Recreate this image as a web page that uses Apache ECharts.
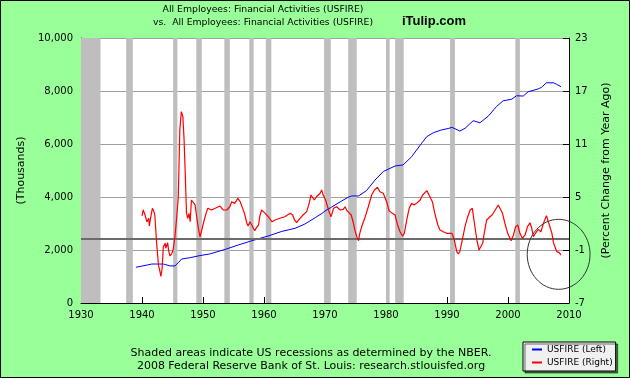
<!DOCTYPE html>
<html><head><meta charset="utf-8">
<script src="https://cdn.jsdelivr.net/npm/echarts@6/dist/echarts.min.js"></script>
<style>html,body{margin:0;padding:0;background:#99ff99}#c{width:630px;height:378px}</style>
</head><body><div id="c"></div>
<script>
// ---- data ----
const blueYears = [1939.0,1940.8,1941.6,1943.5,1944.6,1945.4,1945.95,1946.5,1947.9,1949.5,1951.1,1953.6,1955.8,1958.0,1960.7,1962.9,1965.1,1966.7,1968.4,1969.5,1970.0,1971.1,1972.5,1973.8,1974.4,1975.5,1976.8,1978.2,1979.55,1980.65,1981.5,1982.8,1984.2,1985.85,1986.7,1987.8,1989.1,1990.3,1990.8,1992.1,1992.95,1994.3,1995.4,1996.8,1998.1,1999.2,2000.6,2001.4,2002.5,2003.3,2004.95,2005.5,2006.3,2007.45,2008.0,2008.7];
const blueValues = [1350,1430,1470,1470,1400,1400,1520,1660,1710,1790,1850,2020,2190,2350,2530,2700,2820,2980,3220,3380,3470,3620,3820,3990,4040,4040,4240,4640,4960,5080,5170,5210,5520,6030,6280,6430,6530,6590,6630,6490,6590,6880,6800,7060,7410,7630,7690,7820,7810,7970,8080,8140,8310,8310,8250,8160];

const redYears = [1940.0,1940.2,1940.5,1940.8,1941.1,1941.2,1941.4,1941.7,1941.9,1942.1,1942.4,1942.7,1942.95,1943.1,1943.3,1943.5,1943.8,1943.9,1944.2,1944.4,1944.6,1944.9,1945.1,1945.4,1945.7,1945.95,1946.2,1946.45,1946.7,1946.9,1947.05,1947.3,1947.5,1947.7,1947.9,1948.1,1948.4,1948.7,1949.0,1949.2,1949.5,1949.8,1950.05,1950.5,1950.8,1951.0,1951.4,1952.0,1952.8,1953.3,1953.9,1954.4,1954.7,1955.2,1955.7,1956.1,1956.4,1956.8,1957.2,1957.4,1957.7,1958.0,1958.25,1958.5,1958.8,1959.1,1959.3,1959.6,1959.9,1960.2,1960.7,1961.3,1961.8,1962.6,1963.4,1964.3,1964.7,1965.0,1965.35,1965.9,1966.4,1967.0,1967.4,1967.7,1967.9,1968.25,1968.6,1969.2,1969.45,1969.7,1970.1,1970.4,1970.66,1971.0,1971.4,1971.9,1972.5,1973.0,1973.3,1973.6,1973.9,1974.3,1974.6,1974.9,1975.2,1975.5,1975.7,1976.1,1976.6,1977.1,1977.65,1978.1,1978.6,1979.0,1979.55,1980.1,1980.5,1980.9,1981.5,1981.9,1982.3,1982.7,1983.0,1983.4,1983.8,1984.2,1984.6,1985.0,1985.6,1986.0,1986.7,1987.2,1987.6,1988.0,1988.5,1988.85,1989.4,1989.95,1990.2,1990.8,1991.2,1991.6,1991.85,1992.1,1992.5,1992.95,1993.4,1993.8,1994.15,1994.5,1994.9,1995.25,1995.5,1995.85,1996.1,1996.5,1997.05,1997.4,1997.9,1998.4,1998.7,1999.1,1999.5,1999.95,2000.5,2000.9,2001.25,2001.6,2001.95,2002.35,2002.8,2003.2,2003.6,2003.9,2004.15,2004.5,2004.95,2005.4,2005.8,2006.3,2006.7,2007.2,2007.45,2007.7,2008.0,2008.4,2008.7];
const redValues = [2.85,3.53,2.96,2.2,2.59,1.72,2.59,3.72,3.45,2.96,-0.24,-2.7,-3.46,-4.0,-3.07,-0.63,-0.24,-0.8,-0.17,-1.19,-1.68,-1.37,-1.0,0.5,2.77,5.03,12.6,14.66,14.1,11.45,8.43,3.15,2.59,3.15,2.2,4.66,4.85,4.1,2.59,1.64,0.5,1.26,2.0,3.15,3.72,3.53,3.53,3.72,3.98,3.53,3.53,3.9,4.47,4.28,4.85,4.47,4.66,3.15,2.0,1.72,2.2,1.83,1.46,1.19,1.57,1.83,2.77,3.53,3.34,3.15,2.77,2.2,2.4,2.59,2.77,3.15,2.96,2.4,2.09,2.59,2.96,3.34,4.28,5.23,5.34,4.66,5.03,5.42,5.8,5.23,4.66,4.47,3.34,2.77,3.72,3.9,3.53,3.6,3.9,3.45,3.53,2.96,2.2,1.26,0.5,0.05,0.89,1.83,2.77,3.9,5.23,5.8,6.1,5.6,5.42,4.47,3.45,3.23,2.96,1.83,1.07,0.58,0.89,2.4,3.72,4.28,4.1,4.28,4.66,5.23,5.72,5.03,4.47,3.15,1.83,1.26,1.07,0.89,0.96,0.89,0.13,-1.19,-1.45,-1.19,0.13,1.64,2.77,3.53,3.72,2.0,0.13,-1.0,-1.0,-0.24,0.89,2.4,2.77,2.96,3.53,4.1,3.9,3.15,2.0,0.89,0.05,0.7,1.64,1.83,0.89,0.32,0.7,1.64,2.09,1.46,0.5,0.89,1.34,1.07,2.0,2.89,2.0,0.89,-0.17,-0.24,-1.19,-1.3,-1.57];

const recessionStarts = [1930.0,1937.4,1945.1,1948.9,1953.5,1957.6,1960.3,1969.85,1973.8,1980.0,1981.5,1990.5,2001.2];
const recessionEnds   = [1933.2,1938.5,1945.8,1949.8,1954.4,1958.3,1961.2,1970.95,1975.2,1980.6,1982.9,1991.3,2001.95];

const xTicks = [1930,1940,1950,1960,1970,1980,1990,2000,2010];
const leftTicks = [0,2000,4000,6000,8000,10000];
const rightTicks = [-7,-1,5,11,17,23];
const referenceLineValue = 0.25;           // dark horizontal line (right axis units)
const circleCenter = [2008.3, -1.49];      // annotation ellipse centre (year, %)
const circleRadius = [5.15, 3.96];         // annotation ellipse radii (years, %)

const titleLines = ['All Employees: Financial Activities (USFIRE)','vs.  All Employees: Financial Activities (USFIRE)'];
const brandText = 'iTulip.com';
const footnoteLines = ['Shaded areas indicate US recessions as determined by the NBER.','2008 Federal Reserve Bank of St. Louis: research.stlouisfed.org'];
const seriesNames = ['USFIRE (Left)','USFIRE (Right)'];
const axisNames = ['(Thousands)','(Percent Change from Year Ago)'];

// ---- chart ----
const F = 'DejaVu Sans';
const chart = echarts.init(document.getElementById('c'), null, {renderer:'canvas'});
const blueData = blueYears.map((y,i)=>[y, blueValues[i]]);
const redData = redYears.map((y,i)=>[y, redValues[i]]);
const areas = recessionStarts.map((s,i)=>[{xAxis:s},{xAxis:recessionEnds[i]}]);

const option = {
  animation:false,
  backgroundColor:'#99ff99',
  grid:{left:81, top:38, width:488, height:265, show:true, backgroundColor:'#ffffff', borderWidth:0},
  xAxis:{type:'value', min:xTicks[0], max:xTicks[xTicks.length-1], interval:xTicks[1]-xTicks[0],
    axisLine:{show:true, onZero:false, lineStyle:{color:'#000', width:1}},
    axisTick:{show:true, inside:true, length:6, lineStyle:{color:'#000'}},
    axisLabel:{fontFamily:F, fontSize:10, color:'#000', margin:7, formatter:v=>String(v)},
    splitLine:{show:false}},
  yAxis:[
    {type:'value', min:leftTicks[0], max:leftTicks[leftTicks.length-1], interval:leftTicks[1]-leftTicks[0], position:'left',
     name:axisNames[0], nameLocation:'middle', nameRotate:90, nameGap:52,
     nameTextStyle:{fontFamily:F, fontSize:11, color:'#000'},
     axisLine:{show:true, lineStyle:{color:'#000'}},
     axisTick:{show:true, inside:true, length:6, lineStyle:{color:'#000'}},
     axisLabel:{fontFamily:F, fontSize:10, color:'#000', margin:8},
     splitLine:{show:true, lineStyle:{color:'#a0a0a0', width:1}}},
    {type:'value', min:rightTicks[0], max:rightTicks[rightTicks.length-1], interval:rightTicks[1]-rightTicks[0], position:'right',
     name:axisNames[1], nameLocation:'middle', nameRotate:90, nameGap:32,
     nameTextStyle:{fontFamily:F, fontSize:11, color:'#000'},
     axisLine:{show:true, lineStyle:{color:'#000'}},
     axisTick:{show:true, inside:true, length:6, lineStyle:{color:'#000'}},
     axisLabel:{fontFamily:F, fontSize:10, color:'#000', margin:6},
     splitLine:{show:false}}
  ],
  legend:{orient:'vertical', left:523, top:342, padding:[2,3,3,9], itemGap:2, itemWidth:10, itemHeight:2, icon:'rect',
    backgroundColor:'#f0f0f0', borderColor:'#000', borderWidth:1,
    shadowColor:'rgba(0,0,0,0.55)', shadowOffsetX:2, shadowOffsetY:2, shadowBlur:0,
    textStyle:{fontFamily:F, fontSize:9, color:'#000', lineHeight:11}, data:seriesNames, selectedMode:false},
  series:[
    {type:'line', name:'recessions', data:[], z:1, silent:true,
     markArea:{silent:true, itemStyle:{color:'#bebebe'}, data:areas}},
    {type:'line', name:seriesNames[0], data:blueData, yAxisIndex:0, z:4, showSymbol:false, symbol:'none',
     lineStyle:{color:'#0000ff', width:1}, itemStyle:{color:'#0000ff'}},
    {type:'line', name:seriesNames[1], data:redData, yAxisIndex:1, z:5, showSymbol:false, symbol:'none',
     lineStyle:{color:'#ff0000', width:1.2}, itemStyle:{color:'#ff0000'},
     markLine:{silent:true, symbol:['none','none'], label:{show:false}, lineStyle:{color:'#6b6b6b', width:2, type:'solid'},
       data:[{yAxis:referenceLineValue}]}}
  ],
  graphic:[
    {type:'text', id:'t1', x:263, y:10, style:{text:titleLines[0], fontFamily:F, fontSize:9.3, fill:'#000', textAlign:'center', textVerticalAlign:'middle'}},
    {type:'text', id:'t2', x:263, y:23, style:{text:titleLines[1], fontFamily:F, fontSize:9.3, fill:'#000', textAlign:'center', textVerticalAlign:'middle'}},
    {type:'text', id:'brand', x:434, y:21, style:{text:brandText, fontFamily:'Liberation Sans', fontWeight:'bold', fontSize:13, fill:'#000', textAlign:'center', textVerticalAlign:'middle'}},
    {type:'text', id:'f1', x:311, y:353, style:{text:footnoteLines[0], fontFamily:F, fontSize:11, fill:'#000', textAlign:'center', textVerticalAlign:'middle'}},
    {type:'text', id:'f2', x:311, y:366, style:{text:footnoteLines[1], fontFamily:F, fontSize:11, fill:'#000', textAlign:'center', textVerticalAlign:'middle'}},
    {type:'rect', id:'border', z:100, shape:{x:0.5, y:0.5, width:629, height:377}, style:{fill:null, stroke:'#000', lineWidth:1}}
  ]
};
chart.setOption(option);

const ctr = chart.convertToPixel({xAxisIndex:0, yAxisIndex:1}, circleCenter);
const edge = chart.convertToPixel({xAxisIndex:0, yAxisIndex:1}, [circleCenter[0]+circleRadius[0], circleCenter[1]+circleRadius[1]]);
chart.setOption({graphic:[{type:'ellipse', id:'circle', z:50,
  shape:{cx:ctr[0], cy:ctr[1], rx:Math.abs(edge[0]-ctr[0]), ry:Math.abs(edge[1]-ctr[1])},
  style:{fill:null, stroke:'#333', lineWidth:1}}]});
</script></body></html>
